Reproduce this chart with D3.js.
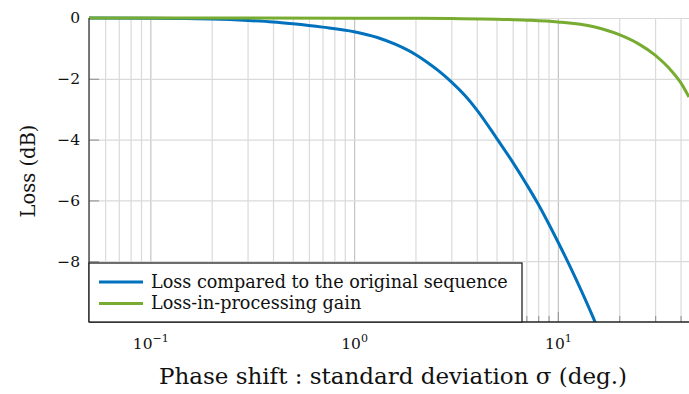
<!DOCTYPE html>
<html>
<head>
<meta charset="utf-8">
<script src="https://cdnjs.cloudflare.com/ajax/libs/d3/7.8.5/d3.min.js"></script>
<style>
  body { margin: 0; background: #fff; }
  svg { display: block; font-family: 'DejaVu Serif', serif; }
</style>
</head>
<body>
<svg width="689" height="394"></svg>
<script>
// values
const blueSigma = [0.05, 0.1, 0.15, 0.2, 0.3, 0.4, 0.5, 0.7, 1, 1.3, 1.6, 2, 2.3, 2.6, 3, 3.5, 4, 5, 6, 7, 8, 9, 10, 12, 15, 16]
const blueLoss = [0, -0.01, -0.02, -0.035, -0.08, -0.13, -0.19, -0.3, -0.45, -0.64, -0.87, -1.2, -1.47, -1.74, -2.1, -2.55, -3.02, -3.95, -4.74, -5.46, -6.12, -6.76, -7.36, -8.45, -9.9, -10.35]

const greenSigma = [0.05, 1, 2, 3, 5, 7, 10, 15, 20, 25, 30, 35, 40, 44]
const greenLoss = [0, -0.005, -0.01, -0.02, -0.04, -0.07, -0.13, -0.29, -0.55, -0.86, -1.22, -1.64, -2.12, -2.6]

const seriesNames = ['Loss compared to the original sequence', 'Loss-in-processing gain']
const seriesColors = ['#0072bd', '#77ac30']

const yTicks = [0, -2, -4, -6, -8]
const xMajor = [0.1, 1, 10]
const xDomain = [0.05, 44]
const yDomain = [-10, 0]

const margin = { top: 18, right: 0, bottom: 72, left: 89 },
  width = 689 - margin.left - margin.right,
  height = 394 - margin.top - margin.bottom

const x = d3.scaleLog().domain(xDomain).range([0, width])
const y = d3.scaleLinear().domain(yDomain).range([height, 0])

const svg = d3
  .select('svg')
  .append('g')
  .attr('transform', 'translate(' + margin.left + ',' + margin.top + ')')

svg
  .append('clipPath')
  .attr('id', 'clip')
  .append('rect')
  .attr('x', 0)
  .attr('y', -8)
  .attr('width', width)
  .attr('height', height + 8)

const isMajor = (d) => Math.abs(Math.log10(d) - Math.round(Math.log10(d))) < 1e-9

// vertical grid
const xGrid = svg
  .append('g')
  .attr('transform', `translate(0, ${height})`)
  .call(d3.axisBottom(x).tickValues(x.ticks()).tickSize(-height).tickFormat(''))
xGrid.select('.domain').remove()
xGrid
  .selectAll('line')
  .attr('stroke', (d) => (isMajor(d) ? '#c4c4c4' : '#dadada'))
  .attr('stroke-width', 1.2)

// horizontal grid
const yGrid = svg
  .append('g')
  .call(d3.axisLeft(y).tickValues(yTicks).tickSize(-width).tickFormat(''))
yGrid.select('.domain').remove()
yGrid.selectAll('line').attr('stroke', '#dadada').attr('stroke-width', 1.2)

// short tick marks inside the axes
const xTickMarks = svg
  .append('g')
  .attr('transform', `translate(0, ${height})`)
  .call(d3.axisBottom(x).tickValues(x.ticks()).tickSizeInner(-6).tickSizeOuter(0).tickFormat(''))
xTickMarks.select('.domain').remove()
xTickMarks
  .selectAll('line')
  .attr('y2', (d) => (isMajor(d) ? -10 : -6))
  .attr('stroke', '#9a9a9a')
  .attr('stroke-width', 1.2)

const yTickMarks = svg
  .append('g')
  .call(d3.axisLeft(y).tickValues(yTicks).tickSizeInner(-10).tickSizeOuter(0).tickFormat(''))
yTickMarks.select('.domain').remove()
yTickMarks.selectAll('line').attr('stroke', '#9a9a9a').attr('stroke-width', 1.2)

// curves
const line = d3
  .line()
  .x((d) => x(d[0]))
  .y((d) => y(d[1]))
  .curve(d3.curveMonotoneX)

const series = [
  d3.zip(blueSigma, blueLoss),
  d3.zip(greenSigma, greenLoss),
]

svg
  .append('g')
  .attr('clip-path', 'url(#clip)')
  .selectAll('path')
  .data(series)
  .enter()
  .append('path')
  .attr('d', line)
  .attr('fill', 'none')
  .attr('stroke', (d, i) => seriesColors[i])
  .attr('stroke-width', 3)

// axis lines
svg
  .append('line')
  .attr('x1', 0)
  .attr('x2', 0)
  .attr('y1', 0)
  .attr('y2', height)
  .attr('stroke', '#444')
  .attr('stroke-width', 1.4)
svg
  .append('line')
  .attr('x1', 0)
  .attr('x2', width)
  .attr('y1', height)
  .attr('y2', height)
  .attr('stroke', '#222')
  .attr('stroke-width', 1.4)

// tick labels
const yAxis = svg
  .append('g')
  .call(
    d3
      .axisLeft(y)
      .tickValues(yTicks)
      .tickSize(0)
      .tickPadding(9)
      .tickFormat((d) => (d === 0 ? '0' : '\u2212' + Math.abs(d)))
  )
yAxis.select('.domain').remove()
yAxis
  .selectAll('text')
  .attr('font-family', 'DejaVu Serif')
  .attr('font-size', 15.5)
  .attr('fill', '#111')

const xAxis = svg
  .append('g')
  .attr('transform', `translate(0, ${height})`)
  .call(d3.axisBottom(x).tickValues(xMajor).tickSize(0).tickFormat(''))
xAxis.select('.domain').remove()
xAxis
  .selectAll('.tick')
  .append('text')
  .attr('y', 27)
  .attr('text-anchor', 'middle')
  .attr('font-family', 'DejaVu Serif')
  .attr('fill', '#111')
  .each(function (d) {
    const t = d3.select(this)
    const e = Math.round(Math.log10(d))
    t.append('tspan').attr('font-size', 15.5).text('10')
    t.append('tspan')
      .attr('font-size', 11)
      .attr('dy', -7)
      .text(e < 0 ? '\u2212' + Math.abs(e) : e)
  })

// axis titles
svg
  .append('text')
  .attr('x', width / 2 + 4)
  .attr('y', height + 62)
  .attr('text-anchor', 'middle')
  .attr('font-size', 23)
  .attr('fill', '#111')
  .text('Phase shift : standard deviation \u03c3 (deg.)')

svg
  .append('text')
  .attr('transform', `translate(${35 - margin.left}, ${height / 2 + 1}) rotate(-90)`)
  .attr('text-anchor', 'middle')
  .attr('font-size', 19.5)
  .attr('fill', '#111')
  .text('Loss (dB)')

// legend
const legend = svg.append('g').attr('transform', `translate(0, ${height - 59})`)

legend
  .append('rect')
  .attr('x', 0)
  .attr('y', 0)
  .attr('width', 433)
  .attr('height', 59)
  .attr('fill', '#fff')
  .attr('stroke', '#222')
  .attr('stroke-width', 1.3)

const items = legend
  .selectAll('.item')
  .data(seriesNames)
  .enter()
  .append('g')
  .attr('class', 'item')
  .attr('transform', (d, i) => `translate(0, ${19 + i * 21.5})`)

items
  .append('line')
  .attr('x1', 10)
  .attr('x2', 54)
  .attr('stroke', (d, i) => seriesColors[i])
  .attr('stroke-width', 3)

items
  .append('text')
  .attr('x', 62)
  .attr('y', 5.5)
  .attr('font-size', 17.6)
  .attr('fill', '#111')
  .text((d) => d)
</script>
</body>
</html>
